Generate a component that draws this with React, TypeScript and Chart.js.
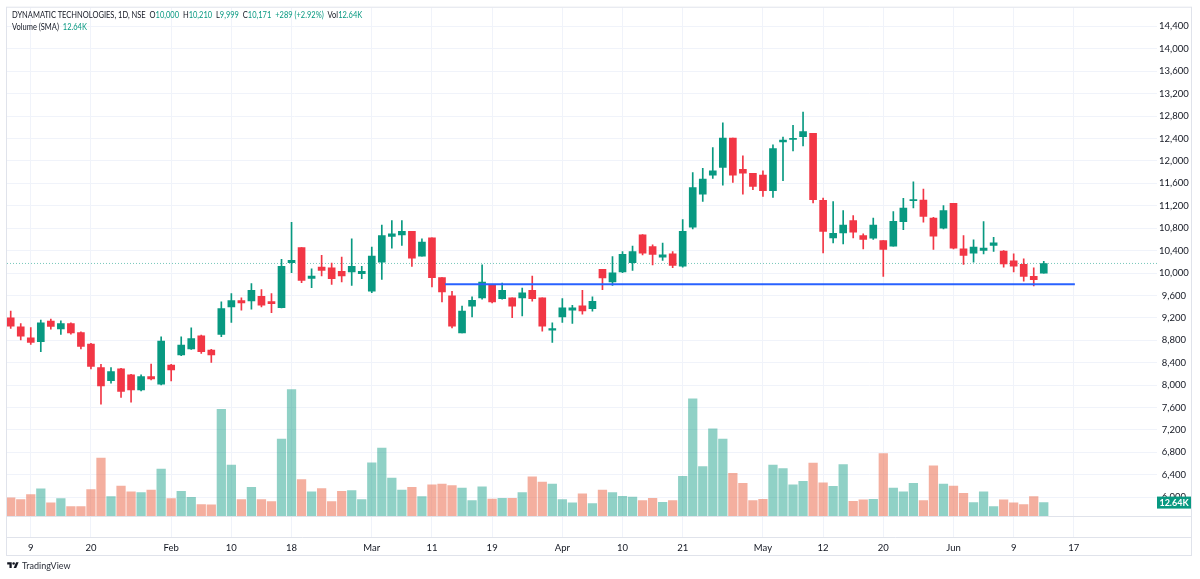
import React, { useEffect, useRef } from 'react';
import { Chart, registerables } from 'chart.js';

Chart.register(...registerables);

// ---------- data ----------
const OPENS = [
  9201, 9041, 8846, 8775, 9142, 9005, 9100, 8940, 8734, 8313,
  8082, 8290, 8183, 7917, 8153, 8017, 8360, 8538, 8645, 8881,
  8627, 8904, 9396, 9508, 9503, 9586, 9490, 9384, 10183, 10456,
  9906, 10107, 10094, 10030, 10018, 9988, 9675, 10195, 10652, 10680,
  10746, 10302, 10627, 9917, 9592, 8934, 9409, 9556, 9782, 9544,
  9556, 9556, 9693, 9556, 8982, 9219, 9338, 9414, 9366, 10066,
  9840, 10018, 10183, 10680, 10474, 10284, 10343, 10124, 10817, 11408,
  11746, 11883, 12410, 11852, 11781, 11746, 11469, 12339, 12385, 12433,
  12492, 11296, 10627, 10716, 10936, 10670, 10622, 10581, 10480, 10918,
  11291, 11302, 10982, 10799, 11243, 10432, 10355, 10403, 10492, 10391,
  10218, 10154, 9941, 10000,
];
const HIGHS = [
  9320, 9100, 9029, 9160, 9178, 9148, 9112, 8952, 8745, 8371,
  8313, 8302, 8195, 8183, 8378, 8863, 8371, 8863, 9023, 8893,
  8638, 9485, 9632, 9556, 9810, 9703, 9632, 10243, 10906, 10456,
  10076, 10314, 10178, 10284, 10609, 10119, 10462, 10858, 10936, 10936,
  10746, 10609, 10627, 9917, 9675, 9409, 9574, 10147, 9793, 9822,
  9556, 9734, 9947, 9556, 9112, 9544, 9426, 9693, 9574, 10066,
  10296, 10385, 10480, 10687, 10503, 10533, 10385, 10954, 11794, 11870,
  12238, 12682, 12410, 12090, 11781, 11824, 12286, 12428, 12634, 12872,
  12492, 11337, 11273, 11114, 11025, 10698, 10982, 10581, 11096, 11332,
  11629, 11497, 10995, 11202, 11243, 10670, 10591, 10918, 10639, 10403,
  10343, 10254, 10094, 10210,
];
const LOWS = [
  9011, 8805, 8727, 8597, 9000, 8904, 8911, 8645, 8290, 7661,
  8034, 7780, 7696, 7899, 8094, 8005, 8076, 8526, 8638, 8567,
  8407, 8863, 9117, 9338, 9355, 9396, 9295, 9378, 10005, 9828,
  9739, 9947, 9799, 9840, 9781, 9899, 9650, 9888, 10444, 10492,
  10119, 10302, 9751, 9485, 9023, 8934, 9219, 9533, 9467, 9533,
  9206, 9236, 9497, 8964, 8762, 9117, 9100, 9266, 9320, 9703,
  9781, 10005, 10048, 10325, 10147, 10225, 10094, 10107, 10787, 11279,
  11687, 11568, 11616, 11408, 11486, 11368, 11350, 11646, 12179, 12268,
  11249, 10361, 10538, 10520, 10627, 10432, 10599, 9941, 10480, 10776,
  11160, 10906, 10421, 10787, 10432, 10154, 10195, 10343, 10385, 10107,
  10018, 9853, 9769, 9999,
];
const CLOSES = [
  9053, 8876, 8762, 9112, 9046, 9100, 8934, 8691, 8336, 7988,
  8242, 7887, 7917, 8153, 8112, 8787, 8272, 8716, 8833, 8597,
  8538, 9366, 9508, 9467, 9693, 9426, 9455, 10119, 10226, 9870,
  9947, 10048, 9899, 9947, 10119, 10030, 10302, 10670, 10698, 10746,
  10266, 10551, 9917, 9663, 9053, 9320, 9515, 9840, 9485, 9693,
  9409, 9645, 9544, 9053, 9011, 9378, 9378, 9325, 9497, 9911,
  10005, 10332, 10385, 10355, 10332, 10325, 10137, 10746, 11527, 11675,
  11824, 12410, 11746, 11781, 11545, 11469, 12220, 12374, 12403, 12522,
  11309, 10741, 10710, 10858, 10728, 10599, 10858, 10421, 10924, 11160,
  11309, 11012, 10657, 11114, 10444, 10314, 10462, 10444, 10538, 10165,
  10124, 9941, 9882, 10171,
];
// volume, thousands of shares
const VOLUMES = [
  17.1, 15.5, 20.2, 25.7, 12.4, 16.4, 8.8, 8.8, 25.0, 55.1,
  18.3, 28.5, 22.8, 22.1, 24.7, 44.7, 16.4, 23.4, 17.7, 10.7,
  10.5, 101.7, 48.5, 15.5, 27.2, 15.5, 13.6, 73.2, 120.7, 34.5,
  22.8, 25.9, 13.6, 23.4, 24.0, 15.5, 50.6, 64.6, 36.1, 24.7,
  27.2, 18.3, 29.7, 30.4, 28.8, 26.6, 14.5, 27.8, 15.9, 16.8,
  16.8, 22.1, 37.3, 32.3, 30.4, 15.5, 12.4, 20.9, 11.7, 24.7,
  22.1, 18.6, 18.0, 14.5, 16.7, 12.9, 14.5, 37.6, 111.7, 47.1,
  83.2, 73.2, 40.5, 31.0, 14.5, 15.8, 48.5, 45.2, 29.5, 32.9,
  50.4, 31.6, 28.1, 49.0, 13.9, 15.2, 15.8, 59.5, 26.6, 22.8,
  31.0, 14.5, 47.8, 30.4, 28.5, 21.5, 12.6, 22.8, 8.8, 15.2,
  12.4, 10.7, 18.3, 12.64,
];
const TICK_INDEX = [2, 8, 16, 22, 28, 36, 42, 48, 55, 61, 67, 75, 81, 87, 94, 100, 106];
const TICK_TEXT = ['9', '20', 'Feb', '10', '18', 'Mar', '11', '19', 'Apr', '10', '21', 'May', '12', '20', 'Jun', '9', '17'];
const PRICE_TICKS = [6000, 6400, 6800, 7200, 7600, 8000, 8400, 8800, 9200, 9600, 10000,
  10400, 10800, 11200, 11600, 12000, 12400, 12800, 13200, 13600, 14000, 14400];
const LEVEL_PRICE = 9800;
const LEVEL_X = [43.3, 106.1];

// ---------- style ----------
const GREEN = '#089981';
const RED = '#F23645';
const VOL_GREEN = 'rgba(8,153,129,0.45)';
const VOL_RED = 'rgba(235,110,80,0.55)';
const GRID = '#f0f3fa';
const FRAME = '#e0e3eb';
const TEXT = '#131722';
const FONT = "Lato, 'Noto Sans', sans-serif";
const X_MIN = -0.37;
const X_MAX = 114.29;
const Y_MIN = 5291;
const Y_MAX = 14734;
const VOL_MIN = -20.24;
const VOL_MAX = 485.4;

const fmt = (v: number) => v.toLocaleString('en-US');

const framePlugin = {
  id: 'tvFrame',
  beforeDraw(chart: any) {
    const { ctx, width, height } = chart;
    ctx.save();
    ctx.fillStyle = '#ffffff';
    ctx.fillRect(0, 0, width, height);
    ctx.restore();
  },
  afterDraw(chart: any) {
    const { ctx, chartArea } = chart;
    const xs = chart.scales.x;
    const ys = chart.scales.y;
    const yv = chart.scales.yv;
    const L = chartArea.left - 0.5;
    const T = chartArea.top - 0.5;
    const R = ys.right - 0.5;
    const B = xs.bottom - 0.5;
    ctx.save();
    ctx.strokeStyle = FRAME;
    ctx.lineWidth = 1;
    ctx.strokeRect(L, T, R - L, B - T);
    const y0 = Math.round(yv.getPixelForValue(0)) + 0.5;
    ctx.beginPath();
    ctx.moveTo(L, y0);
    ctx.lineTo(R, y0);
    ctx.moveTo(L, Math.round(chartArea.bottom) + 0.5);
    ctx.lineTo(R, Math.round(chartArea.bottom) + 0.5);
    ctx.stroke();
    // last volume badge
    const lastV = VOLUMES[VOLUMES.length - 1];
    const yb = yv.getPixelForValue(lastV);
    const bx = chartArea.right;
    const bw = ys.right - chartArea.right - 1;
    ctx.fillStyle = GREEN;
    ctx.fillRect(bx, yb - 6, bw, 12);
    ctx.fillStyle = '#ffffff';
    ctx.font = `bold 9px ${FONT}`;
    ctx.textAlign = 'center';
    ctx.textBaseline = 'middle';
    ctx.fillText(`${lastV.toFixed(2)}K`, bx + bw / 2, yb + 0.5);
    ctx.restore();
  },
};

export default function App() {
  const ref = useRef<HTMLCanvasElement | null>(null);

  useEffect(() => {
    if (!ref.current) return;
    const idx = OPENS.map((_, i) => i);
    const up = idx.map((i) => CLOSES[i] >= OPENS[i]);
    const candleColor = up.map((u) => (u ? GREEN : RED));
    const volColor = up.map((u) => (u ? VOL_GREEN : VOL_RED));
    const last = CLOSES[CLOSES.length - 1];

    const chart = new Chart(ref.current, {
      type: 'bar',
      data: {
        datasets: [
          {
            type: 'line',
            label: 'level',
            data: LEVEL_X.map((x) => ({ x, y: LEVEL_PRICE })),
            borderColor: '#2962FF',
            borderWidth: 2,
            pointRadius: 0,
            yAxisID: 'y',
            order: 0,
          } as any,
          {
            type: 'bar',
            label: 'body',
            data: idx.map((i) => ({ x: i, y: [OPENS[i], CLOSES[i]] })),
            backgroundColor: candleColor,
            borderWidth: 0,
            barThickness: 7,
            minBarLength: 1,
            grouped: false,
            yAxisID: 'y',
            order: 1,
          } as any,
          {
            type: 'bar',
            label: 'wick',
            data: idx.map((i) => ({ x: i, y: [LOWS[i], HIGHS[i]] })),
            backgroundColor: candleColor,
            borderWidth: 0,
            barThickness: 1,
            grouped: false,
            yAxisID: 'y',
            order: 2,
          } as any,
          {
            type: 'line',
            label: 'last',
            data: [{ x: X_MIN, y: last }, { x: X_MAX, y: last }],
            borderColor: 'rgba(8,153,129,0.55)',
            borderWidth: 1,
            borderDash: [1, 2],
            pointRadius: 0,
            yAxisID: 'y',
            order: 3,
          } as any,
          {
            type: 'bar',
            label: 'volume',
            data: idx.map((i) => ({ x: i, y: VOLUMES[i] })),
            backgroundColor: volColor,
            borderWidth: 0,
            barThickness: 8.6,
            grouped: false,
            yAxisID: 'yv',
            order: 4,
          } as any,
        ],
      },
      options: {
        animation: false,
        responsive: false,
        maintainAspectRatio: false,
        layout: { padding: { left: 7, top: 5, right: 8, bottom: 23 } },
        plugins: { legend: { display: false }, tooltip: { enabled: false } },
        scales: {
          x: {
            type: 'linear',
            min: X_MIN,
            max: X_MAX,
            offset: false,
            afterBuildTicks: (s: any) => {
              s.ticks = TICK_INDEX.map((v) => ({ value: v }));
            },
            afterFit: (s: any) => {
              s.height = 19;
            },
            grid: { color: GRID, drawTicks: false, offset: false },
            border: { display: false },
            ticks: {
              autoSkip: false,
              maxRotation: 0,
              padding: 5,
              color: TEXT,
              font: { family: FONT, size: 9.5 },
              callback: (_v: any, i: number) => TICK_TEXT[i],
            },
          },
          y: {
            type: 'linear',
            position: 'right',
            min: Y_MIN,
            max: Y_MAX,
            afterBuildTicks: (s: any) => {
              s.ticks = PRICE_TICKS.map((v) => ({ value: v }));
            },
            afterFit: (s: any) => {
              s.width = 35;
            },
            grid: { color: GRID, drawTicks: false },
            border: { display: false },
            ticks: {
              padding: 2,
              crossAlign: 'center',
              color: TEXT,
              font: { family: FONT, size: 9.5 },
              callback: (v: any) => fmt(Number(v)),
            },
          },
          yv: {
            type: 'linear',
            display: false,
            min: VOL_MIN,
            max: VOL_MAX,
          },
        },
      } as any,
      plugins: [framePlugin],
    });
    return () => chart.destroy();
  }, []);

  const n = CLOSES.length;
  const o = OPENS[n - 1];
  const h = HIGHS[n - 1];
  const l = LOWS[n - 1];
  const c = CLOSES[n - 1];
  const chg = c - CLOSES[n - 2];
  const pct = (chg / CLOSES[n - 2]) * 100;
  const vol = `${VOLUMES[n - 1].toFixed(2)}K`;
  const g = { color: GREEN };
  const item = { marginLeft: 5 };

  return (
    <div style={{ position: 'absolute', left: 0, top: 0, width: 1200, height: 579, background: '#fff', overflow: 'hidden' }}>
      <canvas ref={ref} width={1200} height={579} style={{ position: 'absolute', left: 0, top: 0, width: 1200, height: 579 }} />
      <div
        style={{
          position: 'absolute', left: 12, top: 9, fontFamily: FONT, fontSize: 9.75,
          lineHeight: '11.7px', color: TEXT, whiteSpace: 'nowrap',
          transform: 'scaleX(0.77)', transformOrigin: 'left top',
        }}
      >
        <div>
          <span>DYNAMATIC TECHNOLOGIES, 1D, NSE</span>
          <span style={item}>O<span style={g}>{fmt(o)}</span></span>
          <span style={item}>H<span style={g}>{fmt(h)}</span></span>
          <span style={item}>L<span style={g}>{fmt(l)}</span></span>
          <span style={item}>C<span style={g}>{fmt(c)}</span></span>
          <span style={{ ...item, ...g }}>{`${chg >= 0 ? '+' : ''}${fmt(chg)} (${chg >= 0 ? '+' : ''}${pct.toFixed(2)}%)`}</span>
          <span style={item}>Vol<span style={g}>{vol}</span></span>
        </div>
        <div>
          <span>Volume (SMA)</span>
          <span style={{ ...item, ...g }}>{vol}</span>
        </div>
      </div>
      <div
        style={{
          position: 'absolute', left: 7, top: 560, display: 'flex', alignItems: 'center',
          fontFamily: FONT, fontSize: 9, color: '#2a2e39', whiteSpace: 'nowrap',
        }}
      >
        <svg width="12" height="9" viewBox="0 0 36 28" style={{ marginRight: 3 }}>
          <path d="M14 22H7V11H0V4h14v18z" fill="#131722" />
          <circle cx="20" cy="8" r="4" fill="#131722" />
          <path d="M28 22h-8l7.5-18h8L28 22z" fill="#131722" />
        </svg>
        <span>TradingView</span>
      </div>
    </div>
  );
}
